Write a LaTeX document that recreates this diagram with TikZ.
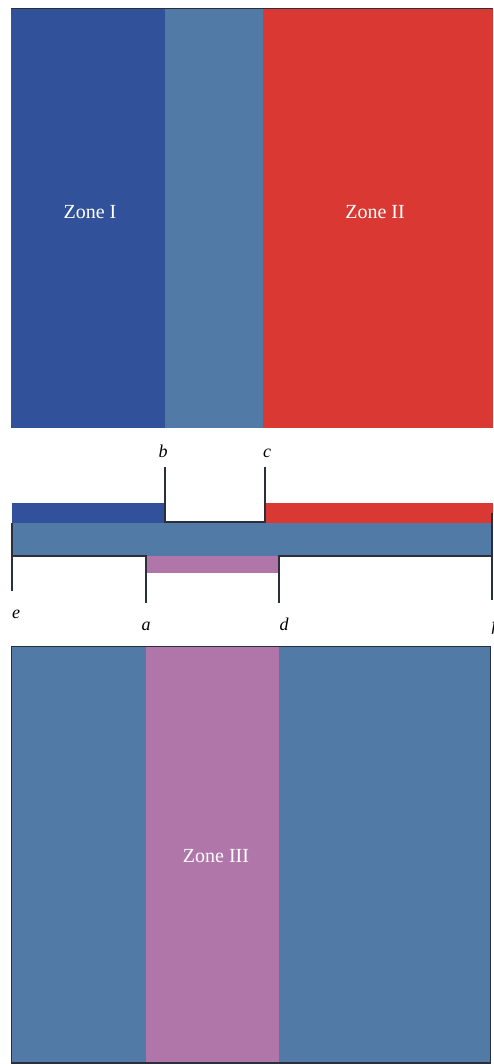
\documentclass[tikz,border=0pt]{standalone}
\usepackage{fontspec}
\setmainfont{Liberation Serif}
\definecolor{zblue}{HTML}{31529A}
\definecolor{zsteel}{HTML}{527AA7}
\definecolor{zred}{HTML}{DA3833}
\definecolor{zpink}{HTML}{B076A9}
\definecolor{zline}{HTML}{2A2F3A}
\tikzset{
  zonelabel/.style={text=white,font=\fontsize{20}{24}\selectfont},
  ptlabel/.style={font=\fontsize{18}{21}\selectfont\itshape},
  wall/.style={draw=zline,line width=2pt},
}
\begin{document}
\begin{tikzpicture}[x=1pt,y=-1pt]
\useasboundingbox (0,0) rectangle (493,1064);
% top panel
\fill[zblue] (11,8) rectangle (165,428);
\fill[zsteel] (165,8) rectangle (263,428);
\fill[zred] (263,8) rectangle (493,428);
\draw[zline,line width=1.5pt] (11,8.5) -- (493,8.5);
\node[zonelabel] (z1) at (90,212) {Zone I};
\node[zonelabel] (z2) at (375,212) {Zone II};
% middle strip
\fill[zblue] (12,503) rectangle (165,523);
\fill[zred] (265,503) rectangle (493,523);
\fill[zsteel] (12,523) rectangle (493,556);
\fill[zpink] (146,556) rectangle (279,573);
\coordinate (bt) at (165,467);
\coordinate (bb) at (165,522);
\coordinate (ct) at (265,467);
\coordinate (cb) at (265,522);
\draw[wall] (bt) -- (bb) -- (cb) -- (ct);
\coordinate (et) at (12,523);
\coordinate (eb) at (12,591);
\coordinate (ab) at (146,603);
\coordinate (at1) at (146,556);
\coordinate (dt) at (279,556);
\coordinate (db) at (279,603);
\coordinate (ft) at (492,513);
\coordinate (fb) at (492,600);
\draw[wall] (et) -- (eb);
\draw[wall] (12,556) -- (at1) -- (ab);
\draw[wall] (db) -- (dt) -- (492,556);
\draw[wall] (ft) -- (fb);
\node[ptlabel] (lb) at (163,451) {b};
\node[ptlabel] (lc) at (267,453) {c};
\node[ptlabel] (le) at (16,614) {e};
\node[ptlabel] (la) at (146,626) {a};
\node[ptlabel] (ld) at (284,624) {d};
\node[ptlabel] (lf) at (494,626) {f};
% bottom panel
\fill[zsteel] (11,646) rectangle (491,1063);
\fill[zpink] (146,646) rectangle (279,1063);
\draw[zline,line width=1.5pt] (11.5,646.5) rectangle (490.5,1063);
\node[zonelabel] (z3) at (216,856) {Zone III};
\end{tikzpicture}
\end{document}
